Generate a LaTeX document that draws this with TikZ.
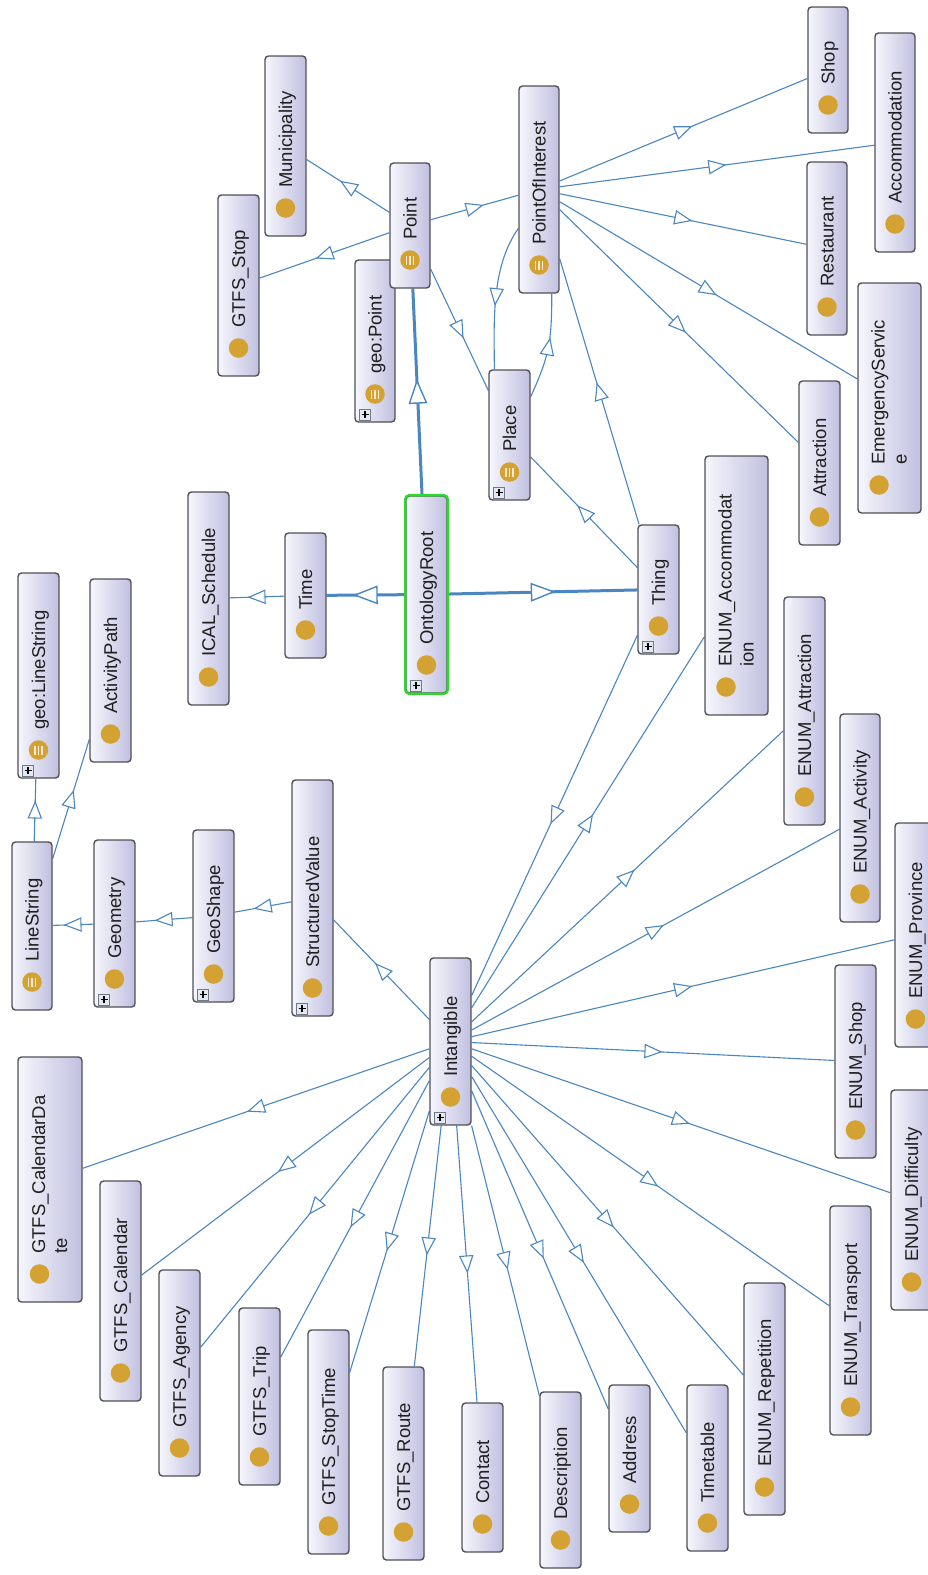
\documentclass[tikz,border=0pt]{standalone}
\usepackage{fontspec}
\setmainfont{Liberation Sans}
\usetikzlibrary{decorations.markings}
\pgfdeclarelayer{bg}
\pgfsetlayers{bg,main}
\definecolor{edgeblue}{RGB}{74,134,192}
\definecolor{boxborder}{RGB}{80,80,88}
\definecolor{boxlight}{RGB}{246,246,252}
\definecolor{boxdark}{RGB}{192,192,224}
\definecolor{golddot}{RGB}{212,162,50}
\definecolor{rootgreen}{RGB}{40,220,40}
\definecolor{plusfill}{RGB}{226,233,242}
\definecolor{plusdraw}{RGB}{110,120,135}
\tikzset{
  clsbox/.style={rectangle, rounded corners=3.5pt, draw=boxborder, line width=1.4pt,
    left color=boxlight, right color=boxdark, inner sep=0pt},
  clslabel/.style={rotate=90, anchor=base west, inner sep=0pt,
    font=\fontsize{18.5}{22}\selectfont, text=black!88, align=left},
  dotstyle/.style={circle, fill=golddot, minimum size=19.5pt, inner sep=0pt},
  plusbox/.style={rectangle, draw=plusdraw, fill=plusfill, line width=0.8pt,
    minimum width=11pt, minimum height=11pt, inner sep=0pt,
    path picture={\draw[black, line width=1.3pt]
      ([xshift=-3.5pt]path picture bounding box.center) -- ([xshift=3.5pt]path picture bounding box.center)
      ([yshift=-3.5pt]path picture bounding box.center) -- ([yshift=3.5pt]path picture bounding box.center);}},
  isa/.style={draw=edgeblue, line width=1.1pt, postaction=decorate,
    decoration={markings, mark=at position 0.5 with {\draw[edgeblue, fill=white, line width=1.1pt]
      (-8pt,-6.5pt) -- (8pt,0pt) -- (-8pt,6.5pt) -- cycle;}}},
  isathick/.style={draw=edgeblue, line width=3pt, postaction=decorate,
    decoration={markings, mark=at position 0.5 with {\draw[edgeblue, fill=white, line width=1.4pt]
      (-11pt,-8.5pt) -- (11pt,0pt) -- (-11pt,8.5pt) -- cycle;}}},
}
% #1 name, #2 x1, #3 y1, #4 x2, #5 y2, #6 text, #7 first-line offset (negative for two lines), #8 flags (1 defined, 2 plus)
\newcommand{\ontoclass}[8]{%
  \node[clsbox, minimum width={(#4)-(#2)}, minimum height={(#5)-(#3)}] (#1) at ({((#2)+(#4))/2},{((#3)+(#5))/2}) {};
  \node[dotstyle] (#1-dot) at ({((#2)+(#4))/2+(#7)},{(#5)-28}) {};
  \node[clslabel] (#1-txt) at ({((#2)+(#4))/2-(#7)+6.6},{(#5)-48}) {#6};
  \ifodd#8\relax
    \draw[golddot!22!white, line width=1.3pt]
      ([xshift=-3.5pt,yshift=-4.5pt]#1-dot.center) -- ([xshift=-3.5pt,yshift=4.5pt]#1-dot.center)
      ([yshift=-4.5pt]#1-dot.center) -- ([yshift=4.5pt]#1-dot.center)
      ([xshift=3.5pt,yshift=-4.5pt]#1-dot.center) -- ([xshift=3.5pt,yshift=4.5pt]#1-dot.center);
  \fi
  \ifnum#8>1\relax
    \node[plusbox] (#1-plus) at ({(#2)+10},{(#5)-7.5}) {};
  \fi
}
\begin{document}
\begin{tikzpicture}[x=1pt,y=-1pt]
\useasboundingbox (0,0) rectangle (928,1575);
\begin{pgfonlayer}{bg}
\fill[white] (0,0) rectangle (928,1575);
\end{pgfonlayer}

\ontoclass{shop}{808}{7}{848}{133}{Shop}{0}{0}
\ontoclass{accom}{875}{33}{915}{252}{Accommodation}{0}{0}
\ontoclass{rest}{807}{162}{847}{335}{Restaurant}{0}{0}
\ontoclass{emerg}{858}{283}{921}{513}{EmergencyServic\\e}{-10.5}{0}
\ontoclass{attr}{799}{381}{840}{545}{Attraction}{0}{0}
\ontoclass{poi}{519}{86}{559}{293}{PointOfInterest}{0}{1}
\ontoclass{geopoint}{355}{260}{395}{422}{geo:Point}{0}{3}
\ontoclass{point}{390}{163}{430}{288}{Point}{0}{1}
\ontoclass{muni}{265}{56}{306}{236}{Municipality}{0}{0}
\ontoclass{gtfsstop}{218}{195}{259}{376}{GTFS\_Stop}{0}{0}
\ontoclass{place}{489}{370}{530}{500}{Place}{0}{3}
\ontoclass{thing}{638}{525}{679}{654}{Thing}{0}{2}
\ontoclass{root}{406}{496}{447}{693}{OntologyRoot}{0}{2}
\draw[rootgreen, line width=2.2pt, rounded corners=3.5pt] (root.south west) rectangle (root.north east);
\ontoclass{time}{285}{533}{326}{658}{Time}{0}{0}
\ontoclass{ical}{188}{492}{229}{705}{ICAL\_Schedule}{0}{0}
\ontoclass{geoline}{18}{573}{59}{778}{geo:LineString}{0}{3}
\ontoclass{actpath}{90}{579}{131}{762}{ActivityPath}{0}{0}
\ontoclass{linestr}{12}{842}{52}{1010}{LineString}{0}{1}
\ontoclass{geometry}{94}{840}{135}{1007}{Geometry}{0}{2}
\ontoclass{geoshape}{193}{830}{234}{1002}{GeoShape}{0}{2}
\ontoclass{structval}{292}{780}{333}{1016}{StructuredValue}{0}{2}
\ontoclass{intang}{430}{958}{471}{1125}{Intangible}{0}{2}
\ontoclass{eacc}{705}{456}{768}{715}{ENUM\_Accommodat\\ion}{-10.5}{0}
\ontoclass{eattr}{784}{597}{825}{825}{ENUM\_Attraction}{0}{0}
\ontoclass{eact}{840}{714}{880}{922}{ENUM\_Activity}{0}{0}
\ontoclass{eprov}{895}{823}{936}{1047}{ENUM\_Province}{0}{0}
\ontoclass{eshop}{835}{965}{876}{1158}{ENUM\_Shop}{0}{0}
\ontoclass{ediff}{891}{1090}{932}{1310}{ENUM\_Difficulty}{0}{0}
\ontoclass{etrans}{830}{1206}{871}{1435}{ENUM\_Transport}{0}{0}
\ontoclass{erep}{744}{1283}{785}{1515}{ENUM\_Repetition}{0}{0}
\ontoclass{timetable}{687}{1385}{728}{1551}{Timetable}{0}{0}
\ontoclass{address}{609}{1385}{650}{1532}{Address}{0}{0}
\ontoclass{descr}{540}{1392}{581}{1568}{Description}{0}{0}
\ontoclass{contact}{462}{1403}{503}{1552}{Contact}{0}{0}
\ontoclass{groute}{383}{1367}{424}{1560}{GTFS\_Route}{0}{0}
\ontoclass{gstoptime}{308}{1330}{349}{1554}{GTFS\_StopTime}{0}{0}
\ontoclass{gtrip}{239}{1308}{280}{1485}{GTFS\_Trip}{0}{0}
\ontoclass{gagency}{159}{1270}{200}{1476}{GTFS\_Agency}{0}{0}
\ontoclass{gcal}{100}{1181}{141}{1401}{GTFS\_Calendar}{0}{0}
\ontoclass{gcaldate}{18}{1057}{82}{1302}{GTFS\_CalendarDa\\te}{-10.5}{0}

\begin{pgfonlayer}{bg}
\draw[isathick] (root) -- (thing);
\draw[isathick] (root) -- (time);
\draw[isathick] (root) -- (point);
\draw[isa] (time) -- (ical);
\draw[isa] (point) -- (muni);
\draw[isa] (point) -- (gtfsstop);
\draw[isa] (point) -- (poi);
\draw[isa] (point) -- (place);
\draw[isa] (poi) -- (shop);
\draw[isa] (poi) -- (accom);
\draw[isa] (poi) -- (rest);
\draw[isa] (poi) -- (emerg);
\draw[isa] (poi) -- (attr);
\draw[isa] (poi.242) .. controls +(-28,40) and +(0,-45) .. (place.103);
\draw[isa] (place.61) .. controls +(18,-40) and +(0,50) .. (poi.277);
\draw[isa] (thing) -- (poi);
\draw[isa] (thing) -- (place);
\draw[isa] (thing) -- (intang);
\draw[isa] (intang) -- (eacc);
\draw[isa] (intang) -- (eattr);
\draw[isa] (intang) -- (eact);
\draw[isa] (intang) -- (eprov);
\draw[isa] (intang) -- (eshop);
\draw[isa] (intang) -- (ediff);
\draw[isa] (intang) -- (etrans);
\draw[isa] (intang) -- (erep);
\draw[isa] (intang) -- (timetable);
\draw[isa] (intang) -- (address);
\draw[isa] (intang) -- (descr);
\draw[isa] (intang) -- (contact);
\draw[isa] (intang) -- (groute);
\draw[isa] (intang) -- (gstoptime);
\draw[isa] (intang) -- (gtrip);
\draw[isa] (intang) -- (gagency);
\draw[isa] (intang) -- (gcal);
\draw[isa] (intang) -- (gcaldate);
\draw[isa] (intang) -- (structval);
\draw[isa] (structval) -- (geoshape);
\draw[isa] (geoshape) -- (geometry);
\draw[isa] (geometry) -- (linestr);
\draw[isa] (linestr) -- (geoline);
\draw[isa] (linestr) -- (actpath);
\end{pgfonlayer}
\end{tikzpicture}
\end{document}
